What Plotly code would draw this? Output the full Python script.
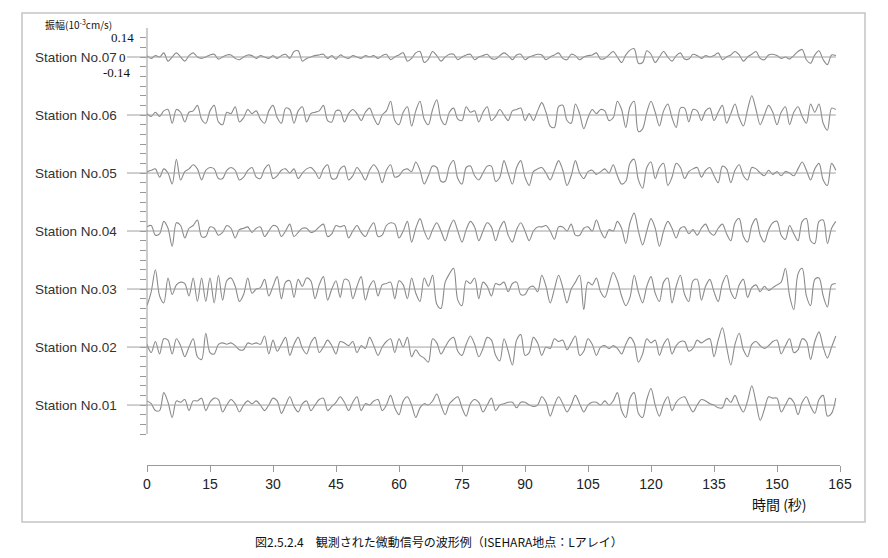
import plotly.graph_objects as go

# ---------------- data ----------------
time_s = list(range(165))  # seconds, 1 s sampling

station_names = ["Station No.01", "Station No.02", "Station No.03", "Station No.04",
                 "Station No.05", "Station No.06", "Station No.07"]

amp01 = [0.03, 0.01, -0.04, -0.04, 0.09, 0.02, -0.09, 0.03, 0.02, 0.04,
         -0.04, 0.03, 0.03, 0.05, -0.04, 0.02, 0.05, 0.04, -0.05, 0.0,
         0.04, 0.01, -0.05, 0.0, 0.03, 0.01, 0.03, 0.0, -0.04, 0.0,
         0.05, 0.03, -0.06, 0.0, 0.06, -0.01, -0.05, 0.01, 0.03, -0.04,
         0.0, 0.04, 0.05, -0.04, -0.01, 0.02, 0.06, 0.02, -0.04, 0.02,
         0.06, -0.04, 0.01, 0.0, 0.03, 0.04, -0.04, 0.0, 0.07, -0.02,
         -0.07, 0.03, 0.06, 0.0, -0.09, -0.02, 0.01, 0.0, 0.03, 0.08,
         0.0, -0.07, 0.01, 0.04, 0.06, -0.02, -0.08, 0.01, 0.04, 0.02,
         -0.05, 0.0, 0.05, -0.04, 0.0, 0.01, 0.02, 0.02, -0.02, 0.02,
         0.02, 0.0, -0.01, 0.0, 0.06, 0.02, -0.08, 0.0, 0.06, 0.01,
         -0.05, 0.0, 0.07, 0.01, -0.05, 0.0, 0.02, 0.02, 0.0, 0.03,
         0.0, 0.03, 0.09, -0.04, -0.09, 0.05, 0.09, -0.06, -0.09, 0.04,
         0.12, 0.0, -0.08, 0.01, 0.06, -0.04, 0.02, 0.05, 0.06, 0.0,
         -0.05, 0.0, 0.04, 0.03, 0.01, 0.0, -0.02, -0.02, 0.05, 0.02,
         0.07, 0.0, -0.05, 0.03, 0.14, 0.02, -0.11, -0.03, 0.06, 0.05,
         0.05, -0.05, 0.0, 0.05, 0.02, -0.07, 0.02, 0.06, -0.01, -0.06,
         0.04, 0.07, -0.08, -0.06, 0.05]

amp02 = [0.02, -0.04, 0.04, -0.05, 0.06, 0.05, -0.05, 0.06, 0.01, -0.07,
         0.0, 0.06, -0.07, -0.09, 0.10, -0.04, -0.05, 0.02, 0.03, 0.02,
         0.03, 0.01, -0.02, -0.02, 0.03, 0.02, 0.03, 0.02, 0.08, -0.05,
         0.05, -0.03, 0.02, 0.07, -0.06, 0.02, 0.07, -0.01, -0.05, 0.03,
         0.07, -0.04, 0.0, 0.05, 0.01, -0.05, 0.04, 0.03, 0.01, 0.04,
         -0.04, 0.01, -0.01, 0.07, 0.01, -0.06, 0.0, 0.04, 0.06, -0.04,
         0.06, 0.0, 0.07, -0.07, -0.02, -0.06, -0.08, -0.11, 0.06, 0.03,
         -0.05, 0.0, 0.05, 0.07, -0.03, -0.06, 0.02, 0.08, 0.02, -0.07,
         -0.01, 0.07, 0.05, -0.06, -0.10, 0.06, -0.03, -0.13, 0.05, 0.09,
         -0.06, -0.04, 0.07, 0.03, -0.06, 0.0, -0.01, 0.06, 0.04, 0.05,
         -0.02, 0.03, 0.08, -0.06, -0.03, 0.06, 0.02, -0.06, 0.0, 0.01,
         -0.01, 0.01, -0.01, -0.05, 0.02, 0.07, 0.03, -0.11, -0.05, 0.06,
         0.03, 0.05, -0.06, 0.02, 0.06, -0.05, 0.01, 0.04, 0.04, -0.03,
         -0.01, 0.05, 0.03, 0.05, 0.06, -0.07, 0.05, 0.14, 0.0, -0.13,
         0.02, 0.10, -0.02, -0.07, 0.02, 0.04, 0.01, -0.01, 0.01, 0.04,
         0.05, -0.05, 0.01, 0.06, -0.04, -0.02, 0.06, 0.04, -0.09, 0.04,
         0.11, 0.0, -0.08, 0.0, 0.08]

amp03 = [-0.12, -0.02, 0.14, -0.05, -0.10, 0.08, -0.04, 0.03, 0.05, 0.04,
         -0.05, 0.08, -0.09, 0.08, -0.09, 0.08, -0.10, 0.10, -0.08, 0.06,
         0.08, 0.02, -0.09, -0.04, 0.08, -0.03, 0.0, 0.01, 0.07, -0.05,
         0.02, 0.09, -0.07, 0.05, 0.06, -0.06, 0.07, 0.02, 0.08, 0.06,
         -0.07, 0.03, 0.09, -0.08, 0.0, 0.06, -0.06, 0.07, 0.06, -0.07,
         0.02, 0.09, -0.08, 0.02, 0.06, -0.05, 0.03, 0.04, 0.05, -0.07,
         0.06, 0.03, -0.07, 0.08, -0.03, -0.09, 0.08, 0.02, 0.10, -0.11,
         -0.14, 0.05, 0.11, 0.15, -0.08, -0.12, 0.06, 0.04, 0.08, -0.07,
         0.05, 0.02, -0.05, 0.04, 0.03, 0.05, -0.02, 0.04, 0.05, -0.04,
         -0.04, 0.01, 0.02, -0.02, 0.10, 0.02, -0.10, 0.0, 0.10, 0.01,
         -0.10, 0.0, 0.05, 0.10, -0.15, 0.05, 0.03, 0.08, -0.02, -0.06,
         0.03, 0.12, 0.06, -0.05, -0.12, -0.06, 0.10, -0.02, -0.10, 0.02,
         0.09, -0.03, -0.09, 0.05, 0.08, -0.10, 0.02, 0.10, -0.04, -0.09,
         0.06, 0.07, -0.08, 0.02, 0.07, -0.02, -0.09, 0.04, 0.10, -0.02,
         -0.07, 0.03, 0.07, -0.06, 0.01, 0.03, -0.02, 0.02, -0.01, 0.01,
         0.03, 0.05, 0.15, -0.05, -0.15, 0.11, 0.15, -0.05, -0.12, 0.07,
         0.08, -0.05, -0.13, 0.03, 0.04]

amp04 = [0.03, 0.04, -0.03, -0.02, 0.07, 0.02, -0.11, 0.06, 0.04, -0.05,
         0.02, 0.04, 0.08, -0.04, -0.04, 0.03, 0.02, -0.03, -0.01, 0.04,
         0.02, -0.05, 0.01, 0.02, 0.03, -0.01, 0.02, 0.03, -0.04, 0.0,
         0.04, 0.03, -0.04, 0.0, 0.05, -0.04, -0.01, 0.02, 0.02, -0.01,
         0.0, 0.03, 0.05, -0.04, -0.02, 0.04, 0.03, 0.04, -0.05, 0.0,
         0.04, -0.01, -0.04, 0.02, 0.06, -0.04, -0.03, 0.04, 0.06, 0.05,
         -0.05, 0.0, 0.07, -0.08, 0.02, 0.09, 0.0, -0.06, 0.01, 0.06,
         0.0, -0.07, 0.02, 0.08, 0.0, -0.08, 0.01, 0.07, 0.03, -0.07,
         0.0, 0.06, 0.03, -0.07, 0.02, 0.07, -0.03, -0.08, 0.01, 0.06,
         0.0, -0.07, 0.0, 0.03, 0.03, 0.04, 0.0, -0.06, 0.03, 0.03,
         0.0, 0.05, -0.03, -0.03, 0.02, 0.03, 0.0, 0.08, 0.0, -0.05,
         0.01, 0.0, 0.07, 0.02, -0.09, 0.06, 0.13, 0.0, -0.10, 0.0,
         0.09, 0.02, -0.11, 0.0, 0.07, 0.02, -0.05, 0.02, 0.03, -0.02,
         0.01, -0.03, 0.02, 0.05, -0.01, -0.03, 0.02, 0.05, -0.02, -0.07,
         0.06, 0.09, -0.04, -0.08, 0.04, 0.09, -0.03, -0.08, 0.01, 0.06,
         0.07, -0.03, -0.06, 0.04, -0.02, -0.07, 0.07, 0.09, -0.07, -0.09,
         0.07, 0.08, -0.09, 0.02, 0.07]

amp05 = [0.01, 0.02, 0.03, -0.03, 0.03, 0.0, -0.08, 0.10, -0.05, 0.01,
         0.03, 0.06, 0.03, -0.05, 0.02, 0.04, 0.03, -0.04, -0.04, 0.02,
         0.04, 0.02, -0.05, -0.03, 0.02, 0.04, -0.03, -0.04, 0.03, 0.06,
         -0.04, -0.02, 0.02, 0.03, 0.0, 0.03, -0.04, 0.0, 0.03, 0.04,
         0.01, -0.04, 0.03, 0.06, -0.04, -0.04, 0.03, 0.05, -0.05, -0.02,
         0.04, 0.0, -0.05, 0.02, 0.06, 0.02, -0.07, 0.02, 0.06, -0.03,
         -0.02, 0.02, 0.03, 0.01, 0.08, 0.02, -0.08, -0.02, 0.05, 0.04,
         -0.06, -0.06, 0.05, 0.09, -0.04, -0.08, 0.04, 0.05, -0.02, -0.05,
         0.0, 0.05, 0.05, -0.06, -0.03, 0.09, 0.0, -0.08, 0.04, 0.09,
         -0.03, -0.09, 0.01, 0.03, 0.04, 0.0, -0.05, 0.02, 0.09, 0.02,
         -0.09, -0.02, 0.09, 0.0, -0.04, 0.01, 0.02, -0.01, 0.01, 0.03,
         0.0, 0.06, -0.02, -0.08, -0.06, 0.07, 0.10, -0.05, -0.11, 0.04,
         0.08, -0.04, 0.04, 0.07, -0.09, -0.03, 0.07, 0.04, -0.04, 0.01,
         0.03, 0.04, -0.03, 0.02, 0.04, -0.02, -0.07, 0.05, 0.03, -0.07,
         0.02, 0.06, -0.02, -0.05, 0.04, 0.03, 0.0, -0.02, 0.02, -0.01,
         0.01, -0.02, 0.01, 0.0, -0.02, 0.03, 0.08, 0.02, -0.05, 0.03,
         0.07, -0.05, -0.09, 0.07, 0.02]

amp06 = [0.01, -0.01, 0.02, -0.01, 0.03, 0.04, -0.06, 0.04, 0.02, -0.05,
         0.02, 0.03, 0.07, -0.03, -0.06, 0.03, 0.07, -0.05, -0.07, 0.02,
         0.01, 0.06, -0.05, -0.02, 0.04, 0.01, 0.03, -0.03, -0.06, 0.03,
         0.07, -0.02, -0.06, 0.05, 0.04, -0.06, 0.03, 0.06, -0.05, 0.01,
         0.02, 0.03, 0.07, -0.04, -0.05, 0.03, 0.03, -0.05, 0.01, 0.04,
         0.01, -0.04, 0.02, 0.05, -0.02, -0.07, 0.0, 0.03, 0.10, -0.04,
         -0.07, 0.02, 0.06, -0.08, 0.03, 0.10, -0.03, -0.07, 0.04, 0.11,
         -0.03, -0.07, 0.02, 0.05, -0.03, -0.04, 0.06, 0.02, 0.03, -0.05,
         0.02, 0.06, -0.04, -0.01, 0.04, 0.0, -0.04, 0.03, 0.04, 0.05,
         -0.04, 0.01, -0.04, 0.03, 0.09, 0.02, -0.08, -0.09, 0.06, 0.07,
         -0.04, -0.06, 0.08, 0.01, -0.10, -0.02, 0.04, 0.01, 0.04, 0.03,
         -0.04, -0.02, 0.10, 0.04, -0.09, 0.06, 0.10, -0.12, -0.10, 0.02,
         0.10, 0.02, -0.08, 0.03, 0.08, -0.02, -0.09, 0.05, 0.05, -0.05,
         0.04, 0.03, -0.04, 0.03, 0.05, -0.04, 0.02, 0.07, -0.06, 0.01,
         0.08, -0.02, -0.08, 0.04, 0.14, 0.04, -0.07, 0.0, 0.07, 0.02,
         -0.07, 0.02, 0.06, -0.07, 0.02, 0.06, -0.01, -0.06, 0.08, 0.02,
         0.08, -0.06, -0.11, 0.05, 0.04]

amp07 = [0.01, -0.01, 0.01, 0.0, 0.03, -0.03, 0.0, 0.03, 0.0, -0.03,
         0.01, 0.03, 0.0, -0.01, 0.0, 0.015, 0.02, -0.015, 0.0, 0.015,
         0.015, -0.01, -0.02, 0.0, 0.015, 0.01, -0.01, 0.01, 0.0, -0.01,
         0.01, -0.01, 0.01, 0.02, -0.01, 0.04, 0.045, -0.03, -0.01, 0.0,
         0.01, 0.015, 0.02, -0.01, 0.01, -0.015, 0.015, 0.0, -0.01, 0.01,
         0.0, -0.01, 0.01, 0.0, 0.01, -0.01, 0.01, 0.02, -0.02, 0.0,
         0.015, 0.03, -0.03, -0.01, 0.03, 0.04, -0.04, -0.015, 0.04, 0.01,
         -0.03, 0.0, 0.02, 0.02, -0.02, 0.0, 0.015, 0.02, -0.02, 0.0,
         0.01, 0.02, -0.01, -0.015, 0.01, 0.03, 0.01, -0.02, 0.015, 0.02,
         -0.02, 0.0, 0.01, 0.02, 0.015, -0.02, 0.0, 0.015, 0.03, -0.01,
         -0.02, 0.02, 0.01, -0.02, 0.0, 0.01, 0.015, 0.03, -0.015, -0.01,
         0.015, 0.04, 0.0, -0.04, 0.015, 0.05, 0.06, -0.045, -0.04, 0.045,
         0.02, -0.04, 0.0, 0.04, 0.0, -0.03, 0.01, 0.03, -0.015, -0.015,
         0.02, 0.01, -0.01, 0.01, 0.0, 0.01, 0.03, -0.02, 0.0, 0.015,
         0.04, 0.015, -0.03, 0.0, 0.02, 0.04, -0.01, -0.02, 0.015, 0.02,
         0.01, -0.01, 0.0, -0.015, 0.01, 0.04, 0.055, -0.02, -0.045, 0.015,
         0.045, -0.02, -0.055, 0.015, 0.01]

x_tick_vals = [0, 15, 30, 45, 60, 75, 90, 105, 120, 135, 150, 165]
amp_scale_vals = [0.14, 0, -0.14]
amp_scale_text = ["0.14", "0", "-0.14"]

# ---------------- layout geometry ----------------
# The page body has an 8 px default margin, so the figure starts at (8, 8)
# in the window; all pixel positions below are window coordinates.
OFF = 8
WIN_W, WIN_H = 888, 558
W, H = WIN_W - 2 * OFF, WIN_H - 2 * OFF
PL, PR, PT, PB = 147, 840, 28, 465          # plot-area box (window px)
STEP = 0.42                                   # vertical offset between stations
Y_MIN, Y_MAX = -0.434, 2.73
X_MIN, X_MAX = 0, 165

def px_x(p):  # window pixel x -> paper x
    return (p - PL) / (PR - PL)

def px_y(p):  # window pixel y -> paper y
    return (PB - p) / (PB - PT)

series = [amp01, amp02, amp03, amp04, amp05, amp06, amp07]

LINE_COL = "#8a8a8a"
AXIS_COL = "#9a9a9a"
TEXT_COL = "#333333"

fig = go.Figure()
shapes = []
annotations = []

for k, (name, amps) in enumerate(zip(station_names, series)):
    base = k * STEP
    t = time_s[:len(amps)]
    fig.add_trace(go.Scatter(
        x=t, y=[a + base for a in amps], mode="lines",
        line=dict(color=LINE_COL, width=1.1, shape="spline", smoothing=0.9),
        hoverinfo="skip", showlegend=False, name=name))
    shapes.append(dict(type="line", xref="paper", yref="y",
                       x0=px_x(127), x1=t[-1] / X_MAX, y0=base, y1=base,
                       line=dict(color="#a0a0a0", width=1)))
    annotations.append(dict(text=name, xref="paper", yref="y",
                            x=px_x(119), y=base, xanchor="right", yanchor="middle",
                            showarrow=False,
                            font=dict(family="Liberation Sans, Arial, sans-serif",
                                      size=13.5, color=TEXT_COL)))

# amplitude scale labels for station No.07
base07 = (len(series) - 1) * STEP
for v, txt in zip(amp_scale_vals, amp_scale_text):
    if v == 0:
        xr, dy = 128, 0.0
    elif v > 0:
        xr, dy = 136, 0.0
    else:
        xr, dy = 133, 0.03
    annotations.append(dict(text=txt, xref="paper", yref="y",
                            x=px_x(xr), y=base07 + v + dy, xanchor="right",
                            yanchor="middle", showarrow=False,
                            font=dict(family="Liberation Serif, serif", size=13,
                                      color="#111111")))

annotations.append(dict(text="振幅(10<sup>-3</sup>cm/s)", xref="paper", yref="paper",
                        x=px_x(43), y=px_y(25), xanchor="left", yanchor="middle",
                        showarrow=False,
                        font=dict(family="Noto Sans CJK JP", size=10, color="#111111")))

annotations.append(dict(text="時間 (秒)", xref="paper", yref="paper",
                        x=px_x(750), y=px_y(504), xanchor="left", yanchor="middle",
                        showarrow=False,
                        font=dict(family="Noto Sans CJK JP", size=14, color="#111111")))

annotations.append(dict(text="図2.5.2.4　観測された微動信号の波形例（ISEHARA地点：Lアレイ）",
                        xref="paper", yref="paper",
                        x=px_x(439), y=px_y(541), xanchor="center", yanchor="middle",
                        showarrow=False,
                        font=dict(family="Noto Sans CJK JP", size=12, color="#111111")))

# left amplitude axis line
y_tick_vals = [round(i * 0.07, 2) for i in range(-3, 39)]
shapes.append(dict(type="line", xref="paper", yref="y", x0=0, x1=0,
                   y0=y_tick_vals[0], y1=Y_MAX, line=dict(color=AXIS_COL, width=1)))

# outer frame
shapes.append(dict(type="rect", xref="paper", yref="paper",
                   x0=px_x(22), x1=px_x(865), y0=px_y(522), y1=px_y(13),
                   line=dict(color="#c4c4c4", width=1.5), layer="below"))

fig.update_layout(
    width=W, height=H,
    margin=dict(l=PL - OFF, r=(W + OFF) - PR, t=PT - OFF, b=(H + OFF) - PB, pad=0),
    paper_bgcolor="white", plot_bgcolor="white",
    shapes=shapes, annotations=annotations, showlegend=False,
    xaxis=dict(range=[X_MIN, X_MAX], tickvals=x_tick_vals,
               ticktext=[str(v) for v in x_tick_vals],
               showline=True, linecolor=AXIS_COL, linewidth=1,
               ticks="outside", ticklen=6, tickcolor=AXIS_COL,
               showgrid=False, zeroline=False,
               tickfont=dict(family="Liberation Sans Narrow, Liberation Sans, sans-serif",
                             size=14, color="#222222")),
    yaxis=dict(range=[Y_MIN, Y_MAX], tickvals=y_tick_vals, showticklabels=False,
               ticks="outside", ticklen=6, tickcolor=AXIS_COL,
               showline=False, showgrid=False, zeroline=False),
)

fig.write_html("out.html")
